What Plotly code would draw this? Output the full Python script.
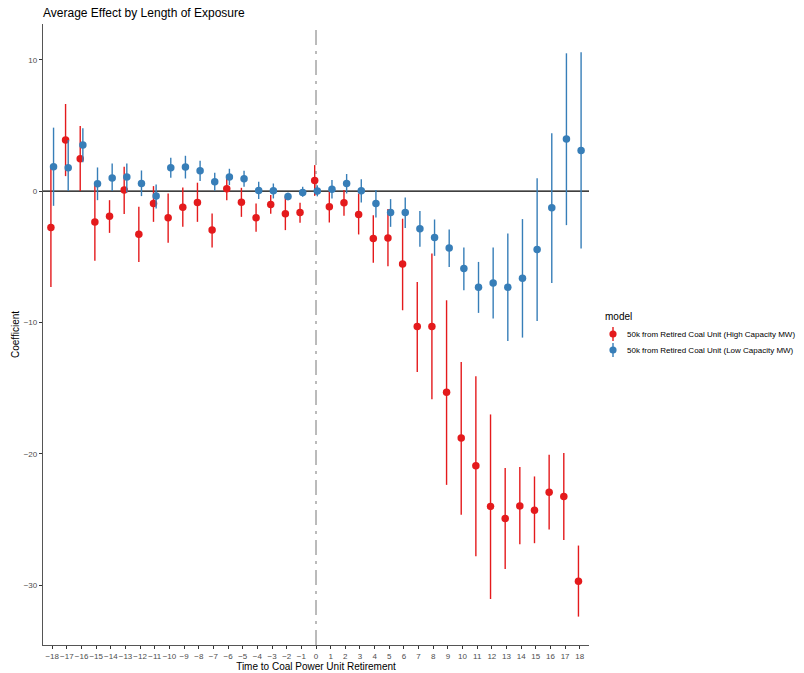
import plotly.graph_objects as go

rel_time = list(range(-18, 19))
tick_labels = [str(v).replace("-", "\u2212") for v in rel_time]

high_est = [-2.77, 3.89, 2.46, -2.36, -1.91, 0.08, -3.28, -0.94, -2.03, -1.22, -0.86, -2.97, 0.18,
            -0.84, -2.03, -1.02, -1.73, -1.63, 0.81, -1.19, -0.89, -1.78, -3.61, -3.56, -5.54,
            -10.31, -10.31, -15.32, -18.8, -20.9, -24.0, -24.92, -23.96, -24.29, -22.92, -23.25, -29.7]
high_lo = [-7.29, 1.14, 0.0, -5.31, -3.18, -1.75, -5.39, -2.34, -3.94, -2.72, -2.34, -4.29, -0.69,
           -1.96, -3.1, -1.73, -2.97, -2.41, -0.36, -2.39, -1.88, -3.3, -5.46, -5.72, -9.07,
           -13.77, -15.85, -22.36, -24.64, -27.79, -31.05, -28.76, -26.88, -26.8, -25.76, -26.55, -32.39]
high_hi = [1.85, 6.63, 4.95, 0.5, -0.69, 1.85, -1.19, 0.38, -0.18, 0.28, 0.64, -1.7, 1.02,
           0.25, -0.94, -0.3, -0.43, -0.89, 1.98, 0.0, 0.08, -0.18, -1.83, -1.37, -2.1,
           -6.91, -4.75, -8.31, -13.0, -14.1, -17.0, -21.08, -21.0, -21.72, -20.07, -19.94, -26.98]

low_est = [1.85, 1.78, 3.51, 0.56, 0.99, 1.07, 0.58, -0.38, 1.78, 1.83, 1.55, 0.71, 1.07,
           0.94, 0.05, 0.03, -0.41, -0.1, 0.0, 0.15, 0.58, 0.03, -0.94, -1.63, -1.63,
           -2.87, -3.53, -4.34, -5.9, -7.32, -6.99, -7.32, -6.63, -4.45, -1.27, 3.96, 3.1]
low_lo = [-1.12, 0.0, 2.2, -0.69, 0.0, -0.1, -0.38, -1.32, 1.02, 0.96, 0.76, 0.03, 0.46,
          0.33, -0.61, -0.56, -0.69, -0.43, -0.4, -0.56, -0.18, -0.86, -2.0, -2.72, -2.8,
          -4.24, -4.93, -5.77, -7.55, -9.27, -9.7, -11.41, -11.15, -9.88, -6.99, -2.59, -4.37]
low_hi = [4.83, 3.89, 4.78, 1.8, 2.11, 2.11, 1.57, 0.5, 2.54, 2.69, 2.31, 1.4, 1.7,
          1.55, 0.71, 0.58, -0.13, 0.33, 0.44, 0.84, 1.3, 0.91, 0.08, -0.61, -0.48,
          -1.52, -2.16, -2.92, -4.29, -5.39, -4.29, -3.23, -2.13, 0.97, 4.4, 10.49, 10.57]

series = [
    ("50k from Retired Coal Unit (High Capacity MW)", high_est, high_lo, high_hi, "#E41A1C", -0.09),
    ("50k from Retired Coal Unit (Low Capacity MW)", low_est, low_lo, low_hi, "#377EB8", 0.09),
]

W, H = 804, 673
L, R, T, B = 43, 215, 24, 28
pw, ph = W - L - R, H - T - B


def px_x(px):
    return (px - L) / pw


def px_y(py):
    return (H - B - py) / ph


fig = go.Figure()
for name, est, lo, hi, color, dodge in series:
    xs = [t + dodge for t in rel_time]
    fig.add_trace(go.Scatter(
        x=xs, y=est, mode="markers", name=name, showlegend=False,
        marker=dict(color=color, size=7.5),
        error_y=dict(type="data", symmetric=False,
                     array=[h - e for h, e in zip(hi, est)],
                     arrayminus=[e - l for e, l in zip(est, lo)],
                     color=color, thickness=1.4, width=0),
    ))

font = "Liberation Sans, Arial, sans-serif"

shapes = [
    dict(type="line", xref="paper", yref="y", x0=0, x1=1, y0=0, y1=0,
         line=dict(color="black", width=1.2), layer="below"),
    dict(type="line", xref="x", yref="paper", x0=0, x1=0, y0=0, y1=1,
         line=dict(color="#777777", width=1, dash="longdashdot"), layer="below"),
]

# manual legend (keeps the panel from being pushed by an overflowing legend)
annotations = [
    dict(text="model", x=px_x(603), y=px_y(316), xref="paper", yref="paper",
         xanchor="left", yanchor="middle", showarrow=False,
         font=dict(size=10, color="black", family=font)),
    dict(text="Coefficient", x=px_x(15), y=px_y(335), xref="paper", yref="paper",
         xanchor="center", yanchor="middle", showarrow=False, textangle=-90,
         font=dict(size=10, color="black", family=font)),
]
for i, (name, est, lo, hi, color, dodge) in enumerate(series):
    cy = 334 + 16 * i
    shapes.append(dict(type="line", xref="paper", yref="paper",
                       x0=px_x(613), x1=px_x(613), y0=px_y(cy - 7), y1=px_y(cy + 7),
                       line=dict(color=color, width=1.4)))
    shapes.append(dict(type="circle", xref="paper", yref="paper",
                       xsizemode="pixel", ysizemode="pixel",
                       xanchor=px_x(613), yanchor=px_y(cy),
                       x0=-3.6, x1=3.6, y0=-3.6, y1=3.6,
                       fillcolor=color, line=dict(color=color, width=0)))
    annotations.append(dict(text=name, x=px_x(625), y=px_y(cy), xref="paper", yref="paper",
                            xanchor="left", yanchor="middle", showarrow=False,
                            font=dict(size=8, color="black", family=font)))

fig.update_layout(
    width=W, height=H,
    margin=dict(l=L, r=R, t=T, b=B),
    paper_bgcolor="white", plot_bgcolor="white",
    font=dict(family=font, color="black"),
    title=dict(text="Average Effect by Length of Exposure", x=43/804, xanchor="left",
               y=1 - 13/673, yanchor="middle", yref="container",
               font=dict(size=12, color="black")),
    showlegend=False,
    annotations=annotations,
    shapes=shapes,
    xaxis=dict(range=[-18.63, 18.63], tickmode="array", tickvals=rel_time, ticktext=tick_labels,
               tickangle=0, automargin=False,
               showgrid=False, zeroline=False, showline=True, linecolor="#555555", linewidth=1.3,
               ticks="outside", ticklen=3, tickcolor="#333333", tickwidth=1,
               tickfont=dict(size=8, color="#4D4D4D"),
               title=dict(text="Time to Coal Power Unit Retirement", font=dict(size=10), standoff=2)),
    yaxis=dict(range=[-34.55, 12.72], tickvals=[-30, -20, -10, 0, 10], automargin=False,
               showgrid=False, zeroline=False, showline=True, linecolor="#555555", linewidth=1.3,
               ticks="outside", ticklen=3, tickcolor="#333333", tickwidth=1,
               tickfont=dict(size=8, color="#4D4D4D")),
)

fig.write_html("out.html")
